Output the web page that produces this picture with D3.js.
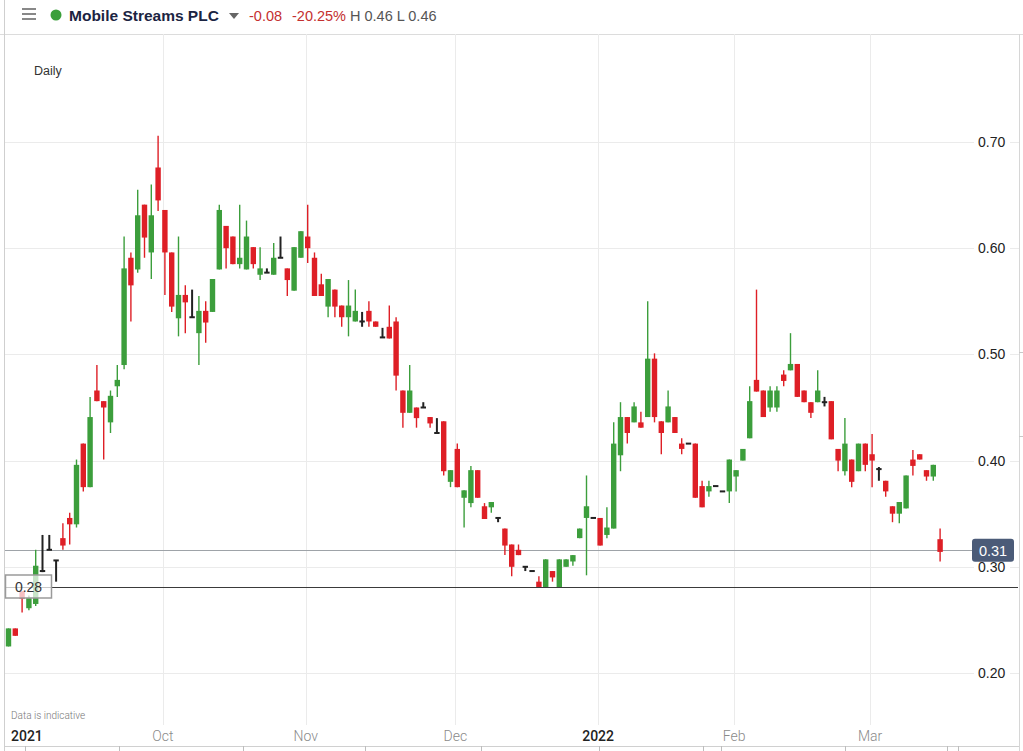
<!DOCTYPE html>
<html><head><meta charset="utf-8">
<script src="https://cdn.jsdelivr.net/npm/d3@7"></script>
<style>html,body{margin:0;padding:0;background:#fff;overflow:hidden}svg{display:block}</style>
</head><body>
<svg id="chart" width="1023" height="751"></svg>
<script>
// ---- Data (daily candles, index-based trading days) ----
const open = [0.225,0.242,0.277,0.261,0.265,0.296,0.316,0.306,0.327,0.346,
0.340,0.416,0.375,0.466,0.456,0.436,0.470,0.490,0.591,0.580,
0.641,0.596,0.676,0.636,0.596,0.534,0.556,0.535,0.520,0.541,
0.540,0.580,0.621,0.611,0.585,0.580,0.601,0.575,0.577,0.575,
0.591,0.581,0.560,0.591,0.611,0.591,0.566,0.545,0.561,0.546,
0.535,0.531,0.531,0.541,0.531,0.516,0.526,0.531,0.466,0.445,
0.450,0.450,0.441,0.426,0.437,0.380,0.411,0.365,0.360,0.391,
0.357,0.356,0.346,0.336,0.321,0.316,0.300,0.296,0.286,0.281,
0.296,0.281,0.300,0.305,0.327,0.346,0.346,0.346,0.330,0.336,
0.405,0.441,0.436,0.436,0.441,0.496,0.437,0.436,0.441,0.416,
0.416,0.416,0.376,0.371,0.376,0.371,0.371,0.385,0.400,0.421,
0.476,0.466,0.450,0.450,0.481,0.485,0.491,0.466,0.455,0.455,
0.455,0.456,0.411,0.390,0.401,0.390,0.416,0.406,0.392,0.381,
0.357,0.350,0.355,0.401,0.406,0.391,0.385,0.326];
const close = [0.242,0.235,0.270,0.271,0.301,0.296,0.316,0.306,0.320,0.340,
0.396,0.375,0.441,0.456,0.450,0.461,0.476,0.581,0.565,0.631,
0.610,0.631,0.645,0.596,0.545,0.556,0.549,0.535,0.541,0.530,
0.571,0.636,0.600,0.585,0.591,0.611,0.585,0.581,0.577,0.591,
0.591,0.570,0.601,0.616,0.600,0.555,0.555,0.571,0.545,0.535,
0.546,0.541,0.531,0.531,0.526,0.516,0.515,0.480,0.445,0.466,
0.440,0.450,0.435,0.426,0.390,0.391,0.375,0.372,0.391,0.365,
0.345,0.361,0.346,0.320,0.300,0.311,0.300,0.296,0.281,0.307,
0.290,0.307,0.307,0.311,0.336,0.357,0.346,0.320,0.337,0.416,
0.441,0.426,0.451,0.431,0.496,0.441,0.426,0.451,0.426,0.411,
0.416,0.365,0.356,0.376,0.376,0.371,0.401,0.391,0.411,0.456,
0.465,0.441,0.466,0.466,0.475,0.491,0.460,0.455,0.445,0.466,
0.455,0.420,0.400,0.416,0.380,0.416,0.396,0.400,0.392,0.371,
0.350,0.361,0.386,0.395,0.401,0.385,0.396,0.314];
const high = [0.242,0.242,0.277,0.273,0.316,0.330,0.330,0.306,0.341,0.351,
0.401,0.416,0.460,0.490,0.456,0.466,0.490,0.611,0.596,0.655,
0.641,0.660,0.706,0.636,0.596,0.611,0.565,0.561,0.555,0.550,
0.571,0.641,0.621,0.611,0.641,0.626,0.601,0.601,0.581,0.605,
0.611,0.581,0.601,0.616,0.641,0.596,0.576,0.571,0.561,0.546,
0.570,0.561,0.540,0.550,0.531,0.525,0.546,0.535,0.466,0.490,
0.450,0.455,0.441,0.440,0.437,0.391,0.416,0.372,0.395,0.391,
0.360,0.361,0.346,0.336,0.321,0.321,0.300,0.296,0.291,0.307,
0.296,0.307,0.307,0.311,0.336,0.386,0.346,0.346,0.356,0.436,
0.455,0.441,0.455,0.446,0.550,0.501,0.437,0.466,0.441,0.421,
0.416,0.416,0.381,0.381,0.376,0.371,0.401,0.391,0.411,0.470,
0.561,0.466,0.470,0.470,0.485,0.520,0.491,0.466,0.455,0.485,
0.460,0.456,0.411,0.440,0.401,0.416,0.416,0.425,0.394,0.381,
0.357,0.361,0.386,0.410,0.406,0.391,0.396,0.336];
const low = [0.225,0.235,0.257,0.259,0.263,0.295,0.316,0.286,0.316,0.321,
0.337,0.371,0.375,0.456,0.401,0.426,0.460,0.486,0.531,0.577,
0.591,0.571,0.635,0.556,0.540,0.517,0.520,0.535,0.490,0.511,
0.540,0.580,0.581,0.585,0.581,0.580,0.581,0.570,0.577,0.575,
0.591,0.555,0.560,0.591,0.586,0.555,0.555,0.535,0.535,0.526,
0.517,0.531,0.526,0.526,0.526,0.516,0.515,0.466,0.431,0.445,
0.431,0.450,0.431,0.426,0.386,0.375,0.375,0.337,0.356,0.365,
0.345,0.351,0.342,0.311,0.291,0.311,0.296,0.296,0.281,0.281,
0.286,0.281,0.300,0.301,0.327,0.292,0.346,0.320,0.327,0.336,
0.390,0.416,0.436,0.431,0.441,0.436,0.406,0.436,0.426,0.406,
0.416,0.365,0.356,0.366,0.376,0.371,0.360,0.371,0.400,0.421,
0.465,0.441,0.446,0.446,0.470,0.485,0.460,0.455,0.440,0.455,
0.451,0.420,0.390,0.386,0.375,0.390,0.390,0.375,0.381,0.366,
0.342,0.341,0.355,0.386,0.401,0.381,0.381,0.305];

const monthLabels = ["Oct","Nov","Dec","2022","Feb","Mar"];
const monthIndex  = [23, 44, 66, 87, 107, 127];
const monthBold   = [false,false,false,true,false,false];
const firstLabel = "2021";
const yTicks = [0.20,0.30,0.40,0.50,0.60,0.70];
const lastPrice = 0.3155, lastPriceLabel = "0.31";
const crossPrice = 0.281, crossPriceLabel = "0.28";

// ---- Layout ----
const svg = d3.select("#chart");
const W = 1023, H = 751;
const plot = {left:5, right:1019, top:34, bottom:725};
const x = d3.scaleLinear().domain([0, open.length-1]).range([8.5, 940.1]);
const y = d3.scaleLinear().domain([0.2, 0.7]).range([673, 142]);
const crisp = v => Math.round(v) + 0.5;
const GREEN = "#3c9e3c", RED = "#de1f26", BLACK = "#222";

// header
svg.append("line").attr("x1",0).attr("x2",W).attr("y1",34.5).attr("y2",34.5).attr("stroke","#dcdcdc");
[9,14,19].forEach(yy=>svg.append("line").attr("x1",22).attr("x2",36).attr("y1",yy).attr("y2",yy).attr("stroke","#6b6b6b").attr("stroke-width",1.6));
svg.append("circle").attr("cx",56).attr("cy",15).attr("r",5.5).attr("fill","#3a9f3a");
svg.append("text").attr("x",69).attr("y",21).attr("font-family","Liberation Sans, Arial, sans-serif").attr("font-weight","bold").attr("font-size",15.5).attr("fill","#1b2442").text("Mobile Streams PLC");
svg.append("path").attr("d","M229,13 L239,13 L234,19 Z").attr("fill","#666");
svg.append("text").attr("x",249).attr("y",21).attr("font-family","Liberation Sans, Arial, sans-serif").attr("font-size",14.5).attr("fill","#c43030").text("-0.08");
svg.append("text").attr("x",292).attr("y",21).attr("font-family","Liberation Sans, Arial, sans-serif").attr("font-size",14.5).attr("fill","#c43030").text("-20.25%");
svg.append("text").attr("x",350).attr("y",21).attr("font-family","Liberation Sans, Arial, sans-serif").attr("font-size",14.5).attr("fill","#555").text("H 0.46  L 0.46");

// borders
svg.append("line").attr("x1",4.5).attr("x2",4.5).attr("y1",0).attr("y2",H).attr("stroke","#cfcfcf");
svg.append("line").attr("x1",1019.5).attr("x2",1019.5).attr("y1",34).attr("y2",H).attr("stroke","#d6d6d6");
[352,436].forEach(yy=>svg.append("line").attr("x1",1019).attr("x2",W).attr("y1",yy+0.5).attr("y2",yy+0.5).attr("stroke","#c8c8c8"));

// vertical gridlines
const gx = i => x(i) - 2;
monthIndex.forEach(i=>{
  svg.append("line").attr("x1",crisp(gx(i))).attr("x2",crisp(gx(i))).attr("y1",plot.top).attr("y2",plot.bottom).attr("stroke","#ebebeb");
});
// horizontal gridlines
yTicks.forEach(v=>{
  svg.append("line").attr("x1",plot.left).attr("x2",974).attr("y1",crisp(y(v))).attr("y2",crisp(y(v))).attr("stroke","#ebebeb");
  svg.append("line").attr("x1",1010).attr("x2",1019).attr("y1",crisp(y(v))).attr("y2",crisp(y(v))).attr("stroke","#ebebeb");
});

// "Daily"
svg.append("text").attr("x",34).attr("y",75).attr("font-family","Liberation Sans, Arial, sans-serif").attr("font-size",12.5).attr("fill","#333").text("Daily");

// price lines
svg.append("line").attr("x1",plot.left).attr("x2",972).attr("y1",crisp(y(lastPrice))).attr("y2",crisp(y(lastPrice))).attr("stroke","#9ea3a8").attr("stroke-width",1);
svg.append("line").attr("x1",plot.left).attr("x2",1018).attr("y1",crisp(y(crossPrice))).attr("y2",crisp(y(crossPrice))).attr("stroke","#3a3a3a").attr("stroke-width",1);

// candles
const data = open.map((o,i)=>({i,o,c:close[i],h:high[i],l:low[i]}));
const col = d => d.c > d.o ? GREEN : (d.c < d.o ? RED : BLACK);
const g = svg.append("g");
g.selectAll("line.wick").data(data).join("line")
  .attr("x1",d=>x(d.i)).attr("x2",d=>x(d.i))
  .attr("y1",d=>y(d.h)).attr("y2",d=>y(d.l))
  .attr("stroke",col).attr("stroke-width",d=>d.c===d.o?2:1.4);
const bw = 5.4;
g.selectAll("rect.body").data(data).join("rect")
  .attr("x",d=>x(d.i)-bw/2).attr("width",bw)
  .attr("y",d=>y(Math.max(d.o,d.c)) - (d.c===d.o?1:0))
  .attr("height",d=>Math.max(2, Math.abs(y(d.o)-y(d.c))))
  .attr("fill",col);

// left crosshair label
svg.append("rect").attr("x",5.5).attr("y",Math.round(y(crossPrice))-12).attr("width",46).attr("height",23)
  .attr("fill","rgba(255,255,255,0.72)").attr("stroke","#9a9a9a").attr("stroke-width",1.5);
svg.append("text").attr("x",28.5).attr("y",y(crossPrice)+5).attr("text-anchor","middle")
  .attr("font-family","Liberation Sans, Arial, sans-serif").attr("font-size",14).attr("fill","#333").text(crossPriceLabel);

// y axis labels
const fmt = d3.format(".2f");
yTicks.forEach(v=>{
  svg.append("text").attr("x",978).attr("y",y(v)+5).attr("font-family","Liberation Sans, Arial, sans-serif")
    .attr("font-size",14).attr("fill","#222").text(fmt(v));
});
// last price box
svg.append("rect").attr("x",972).attr("y",y(lastPrice)-11.5).attr("width",42).attr("height",23).attr("rx",3)
  .attr("fill","#4b5b78");
svg.append("text").attr("x",993).attr("y",y(lastPrice)+5.5).attr("text-anchor","middle")
  .attr("font-family","Liberation Sans, Arial, sans-serif").attr("font-size",14.5).attr("fill","#fff").text(lastPriceLabel);

// x axis labels
svg.append("text").attr("x",11).attr("y",741).attr("font-family","Roboto, sans-serif").attr("font-weight",500)
  .attr("font-size",14).attr("fill","#222").text(firstLabel);
monthLabels.forEach((m,k)=>{
  svg.append("text").attr("x",gx(monthIndex[k])).attr("y",741).attr("text-anchor","middle")
    .attr("font-family","Roboto, sans-serif").attr("font-weight",monthBold[k]?500:300)
    .attr("font-size",14).attr("fill",monthBold[k]?"#222":"#8a8a8a").text(m);
});
svg.append("text").attr("x",11).attr("y",719).attr("font-family","Roboto, sans-serif").attr("font-weight",300)
  .attr("font-size",10).attr("fill","#777").text("Data is indicative");

// bottom toolbar remnants
svg.append("line").attr("x1",5).attr("x2",1019).attr("y1",746.5).attr("y2",746.5).attr("stroke","#d0d0d0");
[25,119,243,365,481,599,703,721,845,947,958].forEach(xx=>
  svg.append("line").attr("x1",xx+0.5).attr("x2",xx+0.5).attr("y1",746).attr("y2",H).attr("stroke","#bdbdbd"));
</script>
</body></html>
